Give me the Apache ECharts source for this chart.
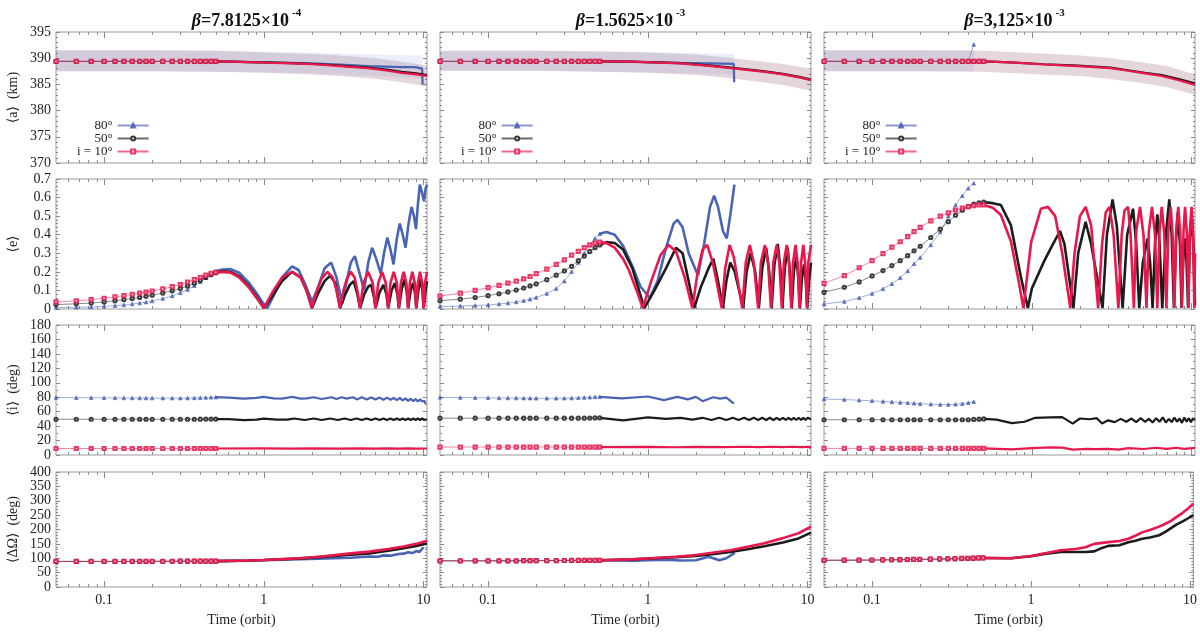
<!DOCTYPE html>
<html>
<head>
<meta charset="utf-8">
<script src="https://cdn.jsdelivr.net/npm/echarts@6/dist/echarts.min.js"></script>
<style>
  html, body { margin: 0; background: #fff; }
  #chart { width: 1200px; height: 633px; }
</style>
</head>
<body>
<div id="chart"></div>
<script>
// sample times of the early (marker) part of every curve
const T0 = [0.05, 0.067, 0.083, 0.1, 0.117, 0.133, 0.15, 0.167, 0.183, 0.2, 0.233, 0.267, 0.3, 0.333, 0.367, 0.4, 0.433, 0.467, 0.5];

const betaMantissa = ['7.8125', '1.5625', '3,125'];
const betaExponent = ['-4', '-3', '-3'];
const legendNames = ['80°', '50°', 'i = 10°'];
const rowNames = ['⟨a⟩  (km)', '⟨e⟩', '⟨i⟩  (deg)', '⟨ΔΩ⟩  (deg)'];
const xLabels = [0.1, 1, 10];
const xMinorTicks = [0.06, 0.07, 0.08, 0.09, 0.2, 0.3, 0.4, 0.5, 0.6, 0.7, 0.8, 0.9, 2, 3, 4, 5, 6, 7, 8, 9];

// ---- <a> (km)
const aStart = [389.4, 389.4, 389.4, 389.4, 389.4, 389.4, 389.4, 389.4, 389.4, 389.4, 389.4, 389.4, 389.4, 389.4, 389.4, 389.4, 389.4, 389.4, 389.4];
const a1_80 = [[0.5, 389.4], [1, 389.2], [2, 389.0], [3, 388.8], [4.5, 388.5], [7.3, 388.3], [8.8, 388.3], [8.85, 388.0], [9.8, 388.0], [9.85, 385.0]];
const a1_50 = [[0.5, 389.4], [1, 389.2], [1.5, 389.05], [2.2, 388.85], [3, 388.6], [4.5, 388.2], [6, 387.8], [7.3, 387.4], [9, 387.1], [10.5, 386.8]];
const a1_10 = [[0.5, 389.4], [0.7, 389.3], [1, 389.15], [1.5, 389.0], [2.2, 388.8], [3, 388.5], [4.5, 388.1], [6, 387.6], [7.3, 387.2], [9, 386.9], [10.5, 386.6]];
const a2_80 = [[0.5, 389.4], [1, 389.25], [1.6, 389.1], [2.5, 389.0], [3.45, 388.9], [3.47, 385.4]];
const a2_50 = [[0.5, 389.4], [0.78, 389.35], [1.6, 389.05], [2.5, 388.6], [3.3, 388.2], [5.4, 387.5], [7, 387.0], [9, 386.4], [10.5, 385.9]];
const a2_10 = [[0.5, 389.4], [0.78, 389.35], [1.6, 389.0], [2.5, 388.5], [3.3, 388.1], [5.4, 387.4], [7, 386.9], [9, 386.3], [10.5, 385.8]];
const a3_80s = [389.4, 389.4, 389.4, 389.4, 389.4, 389.4, 389.4, 389.4, 389.4, 389.4, 389.4, 389.4, 389.4, 389.4, 389.4, 389.4, 392.6];
const a3_50 = [[0.5, 389.4], [0.73, 389.2], [1.2, 388.85], [1.95, 388.6], [3.1, 388.2], [4, 387.7], [5.1, 387.2], [6.5, 386.8], [8.3, 386.0], [10.5, 385.2]];
const a3_10 = [[0.5, 389.4], [0.73, 389.2], [1.2, 388.8], [1.95, 388.5], [3.1, 388.1], [4, 387.6], [5.1, 387.1], [6.5, 386.6], [8.3, 385.8], [10.5, 384.9]];

// spread bands of <a>
const bandT = [0.05, 0.1, 0.2, 0.5, 1, 2, 3, 5, 7, 10.5];
const band1Lo = [387.5, 387.5, 387.5, 387.4, 387.2, 386.9, 386.6, 386.1, 385.5, 384.6];
const band1Hi = [391.5, 391.5, 391.5, 391.4, 391.1, 390.8, 390.5, 390.0, 389.4, 388.6];
const band1bT = [0.05, 0.1, 0.2, 0.5, 1, 2, 3, 5, 7, 9.85];
const band1bLo = [387.5, 387.5, 387.5, 387.4, 387.3, 387.1, 386.9, 386.6, 386.4, 386.1];
const band1bHi = [391.5, 391.5, 391.5, 391.4, 391.3, 391.1, 390.9, 390.7, 390.6, 390.5];
const band2Lo = [387.6, 387.6, 387.6, 387.4, 387.2, 386.8, 386.3, 385.5, 384.9, 383.8];
const band2Hi = [391.4, 391.4, 391.4, 391.3, 391.1, 390.7, 390.2, 389.4, 388.9, 388.0];
const band2bT = [0.05, 0.1, 0.2, 0.5, 1, 2, 3.47];
const band2bLo = [387.6, 387.6, 387.6, 387.4, 387.3, 387.1, 386.9];
const band2bHi = [391.4, 391.4, 391.4, 391.3, 391.2, 391.0, 390.8];
const band3Lo = [387.5, 387.5, 387.5, 387.4, 387.0, 386.6, 386.1, 385.2, 384.5, 383.0];
const band3Hi = [391.5, 391.5, 391.5, 391.4, 391.0, 390.5, 390.1, 389.2, 388.5, 386.9];
const band3bT = [0.05, 0.2, 0.433];
const band3bLo = [387.5, 387.5, 387.5];
const band3bHi = [391.5, 391.5, 391.5];

// ---- <e>
const e1_80s = [0.008, 0.009, 0.011, 0.014, 0.018, 0.022, 0.027, 0.032, 0.037, 0.043, 0.056, 0.07, 0.087, 0.105, 0.125, 0.146, 0.168, 0.188, 0.203];
const e1_50s = [0.024, 0.028, 0.032, 0.038, 0.044, 0.05, 0.056, 0.062, 0.068, 0.074, 0.086, 0.098, 0.11, 0.124, 0.139, 0.155, 0.17, 0.185, 0.195];
const e1_10s = [0.038, 0.044, 0.05, 0.058, 0.065, 0.072, 0.079, 0.085, 0.091, 0.097, 0.108, 0.12, 0.132, 0.145, 0.158, 0.17, 0.182, 0.192, 0.198];
const e1_80 = [[0.5, 0.203], [0.55, 0.213], [0.62, 0.215], [0.7, 0.195], [0.8, 0.145], [0.9, 0.085], [1.0, 0.025], [1.05, 0.005], [1.15, 0.07], [1.3, 0.17], [1.5, 0.23], [1.65, 0.21], [1.8, 0.14], [2.0, 0.04], [2.15, 0.1], [2.4, 0.22], [2.64, 0.25], [2.85, 0.17], [3.1, 0.03], [3.3, 0.15], [3.5, 0.25], [3.71, 0.285], [3.95, 0.2], [4.24, 0.1], [4.5, 0.25], [4.76, 0.33], [5.05, 0.27], [5.39, 0.19], [5.65, 0.3], [5.93, 0.385], [6.2, 0.32], [6.48, 0.24], [6.8, 0.38], [7.09, 0.46], [7.4, 0.4], [7.71, 0.33], [8.05, 0.46], [8.4, 0.55], [8.7, 0.5], [8.96, 0.43], [9.2, 0.56], [9.47, 0.67], [9.75, 0.63], [10.05, 0.58], [10.3, 0.65], [10.5, 0.67]];
const e1_50 = [[0.5, 0.195], [0.55, 0.203], [0.62, 0.2], [0.7, 0.175], [0.8, 0.125], [0.9, 0.065], [1.0, 0.005], [1.15, 0.08], [1.3, 0.15], [1.5, 0.2], [1.7, 0.17], [1.85, 0.1], [2.0, 0.005], [2.2, 0.09], [2.4, 0.15], [2.6, 0.18], [2.8, 0.14], [3.0, 0.005], [3.2, 0.07], [3.45, 0.13], [3.65, 0.15], [3.85, 0.08], [4.0, 0.005], [4.25, 0.08], [4.5, 0.12], [4.7, 0.13], [4.9, 0.06], [5.0, 0.005], [5.3, 0.09], [5.6, 0.13], [5.85, 0.08], [6.0, 0.005], [6.3, 0.1], [6.6, 0.14], [6.85, 0.08], [7.0, 0.005], [7.3, 0.11], [7.6, 0.16], [7.85, 0.09], [8.0, 0.005], [8.3, 0.1], [8.6, 0.14], [8.85, 0.08], [9.0, 0.005], [9.3, 0.11], [9.6, 0.16], [9.85, 0.09], [10.0, 0.005], [10.3, 0.1], [10.5, 0.15]];
const e1_10 = [[0.5, 0.198], [0.55, 0.2], [0.62, 0.196], [0.7, 0.17], [0.8, 0.12], [0.9, 0.06], [1.0, 0.005], [1.15, 0.1], [1.3, 0.17], [1.5, 0.2], [1.7, 0.17], [1.85, 0.1], [2.0, 0.005], [2.15, 0.1], [2.3, 0.165], [2.5, 0.2], [2.7, 0.17], [2.85, 0.1], [3.0, 0.005], [3.15, 0.1], [3.3, 0.16], [3.5, 0.2], [3.7, 0.17], [3.85, 0.1], [4.0, 0.005], [4.2, 0.14], [4.5, 0.2], [4.8, 0.14], [5.0, 0.005], [5.2, 0.14], [5.5, 0.2], [5.8, 0.14], [6.0, 0.005], [6.2, 0.14], [6.5, 0.2], [6.8, 0.14], [7.0, 0.005], [7.2, 0.14], [7.5, 0.2], [7.8, 0.14], [8.0, 0.005], [8.2, 0.14], [8.5, 0.2], [8.8, 0.14], [9.0, 0.005], [9.2, 0.14], [9.5, 0.2], [9.8, 0.14], [10.0, 0.005], [10.2, 0.14], [10.5, 0.2]];

const e2_80s = [0.013, 0.016, 0.019, 0.022, 0.027, 0.032, 0.038, 0.045, 0.053, 0.062, 0.083, 0.11, 0.15, 0.2, 0.25, 0.3, 0.345, 0.38, 0.405];
const e2_50s = [0.045, 0.053, 0.062, 0.072, 0.082, 0.092, 0.102, 0.113, 0.124, 0.135, 0.158, 0.182, 0.205, 0.23, 0.26, 0.285, 0.31, 0.33, 0.345];
const e2_10s = [0.07, 0.085, 0.1, 0.115, 0.127, 0.139, 0.15, 0.162, 0.175, 0.19, 0.215, 0.24, 0.265, 0.29, 0.31, 0.33, 0.345, 0.355, 0.36];
const e2_80 = [[0.5, 0.405], [0.55, 0.415], [0.62, 0.4], [0.7, 0.34], [0.8, 0.23], [0.9, 0.12], [1.03, 0.06], [1.15, 0.15], [1.3, 0.33], [1.45, 0.46], [1.53, 0.48], [1.65, 0.44], [1.8, 0.3], [2.06, 0.18], [2.25, 0.35], [2.45, 0.55], [2.6, 0.61], [2.75, 0.55], [2.95, 0.42], [3.12, 0.38], [3.3, 0.52], [3.48, 0.67]];
const e2_50 = [[0.5, 0.345], [0.55, 0.36], [0.62, 0.355], [0.7, 0.32], [0.8, 0.22], [0.88, 0.1], [0.95, 0.005], [1.1, 0.1], [1.3, 0.22], [1.5, 0.33], [1.65, 0.3], [1.8, 0.15], [1.95, 0.005], [2.15, 0.12], [2.4, 0.22], [2.57, 0.27], [2.75, 0.15], [2.95, 0.005], [3.1, 0.15], [3.28, 0.25], [3.5, 0.2], [3.95, 0.005], [4.15, 0.2], [4.4, 0.3], [4.7, 0.2], [4.95, 0.005], [5.2, 0.22], [5.5, 0.33], [5.75, 0.2], [5.95, 0.005], [6.2, 0.24], [6.5, 0.35], [6.75, 0.22], [6.95, 0.005], [7.2, 0.22], [7.5, 0.33], [7.75, 0.2], [7.95, 0.005], [8.2, 0.2], [8.5, 0.28], [8.75, 0.17], [8.95, 0.005], [9.2, 0.16], [9.5, 0.24], [9.75, 0.15], [9.95, 0.005], [10.2, 0.15], [10.5, 0.25]];
const e2_10 = [[0.5, 0.36], [0.55, 0.355], [0.62, 0.33], [0.7, 0.27], [0.76, 0.21], [0.85, 0.1], [0.93, 0.005], [1.05, 0.15], [1.2, 0.29], [1.35, 0.345], [1.5, 0.31], [1.7, 0.17], [1.9, 0.005], [2.05, 0.2], [2.2, 0.32], [2.35, 0.345], [2.55, 0.25], [2.9, 0.005], [3.05, 0.22], [3.25, 0.345], [3.45, 0.28], [3.9, 0.005], [4.1, 0.25], [4.35, 0.345], [4.6, 0.25], [4.9, 0.005], [5.1, 0.25], [5.4, 0.345], [5.65, 0.25], [5.9, 0.005], [6.1, 0.25], [6.4, 0.345], [6.65, 0.25], [6.9, 0.005], [7.1, 0.25], [7.4, 0.345], [7.65, 0.25], [7.9, 0.005], [8.1, 0.25], [8.4, 0.345], [8.65, 0.25], [8.9, 0.005], [9.1, 0.25], [9.4, 0.345], [9.65, 0.25], [9.9, 0.005], [10.1, 0.25], [10.5, 0.345]];

const e3_80s = [0.027, 0.04, 0.06, 0.083, 0.108, 0.136, 0.168, 0.205, 0.243, 0.277, 0.345, 0.415, 0.5, 0.56, 0.61, 0.65, 0.677];
const e3_50s = [0.09, 0.117, 0.146, 0.178, 0.207, 0.234, 0.26, 0.287, 0.313, 0.338, 0.385, 0.43, 0.47, 0.505, 0.532, 0.552, 0.565, 0.572, 0.575];
const e3_10s = [0.138, 0.18, 0.222, 0.26, 0.298, 0.333, 0.362, 0.39, 0.417, 0.44, 0.474, 0.5, 0.518, 0.533, 0.543, 0.551, 0.557, 0.56, 0.56];
const e3_50 = [[0.5, 0.575], [0.57, 0.57], [0.64, 0.56], [0.74, 0.45], [0.85, 0.18], [0.944, 0.005], [1.0, 0.11], [1.19, 0.255], [1.32, 0.33], [1.5, 0.42], [1.6, 0.35], [1.82, 0.005], [1.95, 0.3], [2.17, 0.47], [2.35, 0.35], [2.77, 0.005], [2.95, 0.4], [3.2, 0.59], [3.4, 0.45], [3.7, 0.005], [3.95, 0.4], [4.3, 0.54], [4.5, 0.35], [4.7, 0.005], [4.95, 0.25], [5.3, 0.38], [5.5, 0.25], [5.7, 0.005], [5.9, 0.35], [6.1, 0.51], [6.3, 0.35], [6.55, 0.005], [6.9, 0.4], [7.25, 0.59], [7.5, 0.4], [7.75, 0.005], [8.0, 0.38], [8.2, 0.52], [8.45, 0.35], [8.65, 0.005], [8.9, 0.3], [9.1, 0.38], [9.3, 0.25], [9.5, 0.005], [9.75, 0.38], [10.0, 0.52], [10.25, 0.35], [10.5, 0.02]];
const e3_10 = [[0.5, 0.56], [0.57, 0.545], [0.64, 0.506], [0.74, 0.363], [0.835, 0.13], [0.885, 0.005], [0.99, 0.36], [1.14, 0.54], [1.26, 0.55], [1.4, 0.5], [1.55, 0.3], [1.74, 0.005], [1.85, 0.3], [2.0, 0.5], [2.17, 0.55], [2.35, 0.45], [2.6, 0.005], [2.75, 0.35], [2.9, 0.52], [3.06, 0.55], [3.25, 0.4], [3.48, 0.005], [3.65, 0.4], [3.8, 0.53], [4.0, 0.55], [4.15, 0.4], [4.35, 0.005], [4.5, 0.42], [4.75, 0.55], [5.0, 0.4], [5.22, 0.005], [5.4, 0.42], [5.65, 0.55], [5.9, 0.4], [6.1, 0.005], [6.3, 0.42], [6.5, 0.55], [6.75, 0.4], [6.95, 0.005], [7.15, 0.42], [7.4, 0.55], [7.6, 0.4], [7.8, 0.005], [8.0, 0.42], [8.25, 0.55], [8.5, 0.4], [8.7, 0.005], [8.9, 0.42], [9.1, 0.55], [9.35, 0.4], [9.55, 0.005], [9.75, 0.42], [10.0, 0.55], [10.2, 0.4], [10.4, 0.005], [10.5, 0.3]];

// ---- <i> (deg)
const i1_80s = [79.5, 79.4, 79.3, 79.2, 79.1, 79.0, 79.0, 78.9, 78.8, 78.8, 78.7, 78.7, 78.7, 78.8, 79.0, 79.2, 79.5, 79.8, 80.0];
const i1_50s = [49.5, 49.5, 49.5, 49.5, 49.5, 49.5, 49.5, 49.5, 49.5, 49.5, 49.5, 49.5, 49.5, 49.5, 49.5, 49.6, 49.7, 49.8, 49.8];
const i1_10s = [9, 9, 9, 9, 9, 9, 9, 9, 9, 9, 9, 9, 9, 9, 9, 9, 9, 9, 9];
const i1_80 = [[0.5, 80], [0.6, 79.5], [0.75, 78], [0.9, 79], [1.0, 80.5], [1.15, 78.5], [1.3, 78], [1.5, 80.5], [1.7, 78], [1.85, 78.5], [2.05, 80], [2.3, 77.5], [2.65, 80], [2.85, 77.5], [3.07, 80], [3.3, 78], [3.6, 80], [3.85, 77], [4.1, 80], [4.4, 77], [4.7, 79.5], [5.0, 77], [5.3, 79.5], [5.6, 76.5], [5.9, 79.5], [6.2, 76.5], [6.5, 79], [6.8, 76], [7.1, 79], [7.4, 75.5], [7.7, 78.5], [8.0, 75], [8.3, 78], [8.6, 74.5], [8.9, 77.5], [9.2, 74], [9.5, 77], [9.8, 74], [10.1, 75], [10.3, 71]];
const i1_50 = [[0.5, 49.8], [0.6, 49.6], [0.75, 48.3], [0.9, 49], [1.0, 50.3], [1.2, 49], [1.4, 49], [1.55, 50.5], [1.8, 48.5], [2.05, 50.5], [2.3, 48.5], [2.6, 50.5], [2.9, 48.5], [3.2, 50.5], [3.5, 48.5], [3.8, 50.5], [4.1, 48.5], [4.4, 50.5], [4.7, 48.5], [5.0, 50.5], [5.3, 48.5], [5.6, 50.5], [5.9, 48.5], [6.2, 50.5], [6.5, 48.5], [6.8, 50.5], [7.1, 48.5], [7.4, 50.5], [7.7, 48.5], [8.0, 50.5], [8.3, 48.5], [8.6, 50.5], [8.9, 48.5], [9.2, 50.5], [9.5, 48.5], [9.8, 50.5], [10.1, 48.5], [10.5, 49.5]];
const i1_10 = [[0.5, 9], [1, 9.3], [1.5, 8.8], [2, 9.3], [3, 8.8], [4, 9.3], [5, 8.8], [6, 9.3], [7, 8.8], [8, 9.3], [9, 8.8], [10.5, 9]];
const i2_80s = [79.8, 79.6, 79.4, 79.2, 79.0, 78.9, 78.8, 78.7, 78.6, 78.5, 78.5, 78.5, 78.6, 78.8, 79.1, 79.5, 79.9, 80.3, 80.5];
const i2_50s = [51, 51, 51, 51, 51, 51, 51, 51, 51, 51, 51, 51, 51, 51, 51, 51, 51.1, 51.3, 51.5];
const i2_10s = [11, 11, 11, 11, 11, 11, 11, 11, 11, 11, 11, 11, 11, 11, 11, 11, 11, 11, 11];
const i2_80 = [[0.5, 80.5], [0.69, 78.5], [1.0, 81], [1.26, 76], [1.53, 80.5], [1.78, 77], [2.0, 80.5], [2.2, 74.5], [2.56, 80], [2.83, 78], [3.1, 79.5], [3.45, 71]];
const i2_50 = [[0.5, 51.5], [0.7, 48], [1.0, 52], [1.3, 50], [1.6, 51.5], [1.9, 49], [2.2, 51.5], [2.5, 48.5], [2.8, 51.5], [3.1, 48.5], [3.4, 51.5], [3.7, 48.5], [4.0, 51.5], [4.3, 48.5], [4.6, 51.5], [4.9, 48.5], [5.2, 51.5], [5.5, 48.5], [5.8, 51.5], [6.1, 48.5], [6.4, 51.5], [6.7, 48.5], [7.0, 51.5], [7.3, 48.5], [7.6, 51.5], [7.9, 48.5], [8.2, 51.5], [8.5, 48.5], [8.8, 51.5], [9.1, 48.5], [9.4, 51.5], [9.7, 48.5], [10.0, 51.5], [10.5, 49.5]];
const i2_10 = [[0.5, 11], [1, 11.3], [1.5, 10.7], [2, 11.3], [3, 10.8], [4, 11.4], [5, 10.8], [6, 11.4], [7, 10.8], [8, 11.4], [9, 10.8], [10.5, 11.2]];
const i3_80s = [77.5, 76.7, 75.9, 75.0, 74.2, 73.5, 72.8, 72.2, 71.6, 71.1, 70.3, 69.9, 69.8, 70.2, 71.0, 72.3, 73.8];
const i3_50s = [48.8, 48.8, 48.8, 48.8, 48.8, 48.8, 48.8, 48.8, 48.8, 48.8, 48.8, 48.8, 48.8, 48.8, 48.8, 48.8, 49.2, 49.6, 50.0];
const i3_10s = [9.1, 9.1, 9.1, 9.1, 9.1, 9.1, 9.1, 9.1, 9.1, 9.1, 9.1, 9.1, 9.1, 9.1, 9.1, 9.1, 9.1, 9.1, 9.1];
const i3_50 = [[0.5, 50], [0.6, 49], [0.75, 44.2], [0.9, 46], [1.05, 51.5], [1.3, 52], [1.55, 52.4], [1.8, 43.5], [2.0, 50.5], [2.3, 49.5], [2.55, 51], [2.75, 43.5], [3.0, 48], [3.3, 45.5], [3.6, 50], [3.9, 46], [4.2, 50.5], [4.5, 45.5], [4.8, 51], [5.1, 46], [5.4, 50], [5.7, 45], [6.0, 51], [6.3, 46], [6.6, 52], [6.9, 45], [7.2, 50], [7.5, 45.5], [7.8, 52], [8.1, 46], [8.4, 50.5], [8.7, 44.5], [9.0, 52], [9.3, 46], [9.6, 51], [9.9, 45.5], [10.2, 51], [10.5, 48]];
const i3_10 = [[0.5, 9.1], [0.75, 7.8], [1.0, 9.5], [1.3, 10.5], [1.55, 10.3], [1.8, 7.5], [2.2, 8.5], [2.5, 8], [3.0, 8.5], [3.5, 7.5], [4, 9.5], [5, 8.3], [6, 10], [7, 8.5], [8, 10], [9, 8.5], [10.5, 9.8]];

// ---- <ΔΩ> (deg)
const wStart1 = [89, 89, 89, 89, 89, 89, 89, 89.2, 89.3, 89.4, 89.5, 89.6, 89.7, 89.8, 89.9, 90, 90, 90, 90];
const w1_80 = [[0.5, 90], [0.8, 91.5], [1.0, 93], [1.3, 95], [1.69, 97], [2.2, 98], [2.78, 100], [3.5, 102], [4.57, 106], [5.2, 105], [5.6, 110], [6.2, 109], [7.0, 115], [7.5, 116], [8.0, 121], [8.5, 118], [9.0, 125], [9.4, 122], [9.8, 133], [10.0, 137]];
const w1_50 = [[0.5, 90], [0.8, 92], [1.0, 94], [1.3, 96.5], [1.69, 99.5], [2.2, 104], [2.78, 108], [3.5, 112], [4.57, 117], [6, 126], [7.5, 135], [9, 143], [10.5, 151]];
const w1_10 = [[0.5, 90], [0.8, 92], [1.0, 94], [1.3, 97], [1.69, 100], [2.2, 105], [2.78, 111], [3.5, 117], [4.57, 123], [6, 132], [7.5, 141], [9, 150], [10.5, 161]];
const wStart2 = [91, 91, 91, 91, 91, 91, 91.2, 91.4, 91.5, 91.6, 91.8, 92, 92.2, 92.4, 92.6, 92.8, 92.9, 93, 93];
const w2_80 = [[0.5, 93], [0.8, 91.5], [1.0, 93], [1.3, 95], [1.6, 92], [2.0, 93], [2.4, 105], [2.8, 93], [3.1, 100], [3.5, 119]];
const w2_50 = [[0.5, 93], [0.8, 96], [1.0, 99], [1.5, 104], [2.0, 108], [2.6, 115], [3.28, 122], [4.2, 131], [5.36, 142], [7, 155], [8.77, 169], [10.5, 189]];
const w2_10 = [[0.5, 93], [0.8, 96], [1.0, 99], [1.5, 105], [2.0, 111], [2.6, 120], [3.28, 128], [4.2, 140], [5.36, 152], [7, 170], [8.77, 187], [10.5, 210]];
const wStart3 = [93, 93.3, 93.6, 94, 94.4, 94.8, 95.2, 95.6, 96, 96.4, 97, 97.6, 98.2, 98.8, 99.4, 100, 100.5, 101, 101];
const w3_80s = [92.5, 92.7, 93, 93.3, 93.6, 93.9, 94.2, 94.5, 94.8, 95, 95.5, 96, 96.4, 96.8, 97.2, 97.6, 98];
const w3_50 = [[0.5, 101], [0.75, 100], [1.0, 107], [1.25, 116], [1.54, 122], [1.9, 122], [2.2, 122], [2.5, 124], [2.8, 136], [3.06, 143], [3.6, 145], [4.1, 156], [4.6, 162], [5.0, 168], [5.6, 172], [6.4, 180], [7, 192], [7.6, 205], [8.2, 217], [9, 228], [9.8, 240], [10.5, 250]];
const w3_10 = [[0.5, 101], [0.75, 100], [1.0, 108], [1.25, 118], [1.54, 128], [1.9, 132], [2.2, 138], [2.5, 150], [3.06, 156], [3.6, 160], [4.1, 168], [4.6, 180], [5.0, 190], [5.6, 198], [6.4, 210], [7, 220], [7.6, 230], [8.2, 243], [9, 258], [9.8, 275], [10.5, 290]];

// panels[row][col] = [80 early, 80 late, 50 early, 50 late, 10 early, 10 late]
const panels = [
  [[aStart, a1_80, aStart, a1_50, aStart, a1_10], [aStart, a2_80, aStart, a2_50, aStart, a2_10], [a3_80s, [], aStart, a3_50, aStart, a3_10]],
  [[e1_80s, e1_80, e1_50s, e1_50, e1_10s, e1_10], [e2_80s, e2_80, e2_50s, e2_50, e2_10s, e2_10], [e3_80s, [], e3_50s, e3_50, e3_10s, e3_10]],
  [[i1_80s, i1_80, i1_50s, i1_50, i1_10s, i1_10], [i2_80s, i2_80, i2_50s, i2_50, i2_10s, i2_10], [i3_80s, [], i3_50s, i3_50, i3_10s, i3_10]],
  [[wStart1, w1_80, wStart1, w1_50, wStart1, w1_10], [wStart2, w2_80, wStart2, w2_50, wStart2, w2_10], [w3_80s, [], wStart3, w3_50, wStart3, w3_10]]
];
const bands = [
  [bandT, band1Lo, band1Hi, band1bT, band1bLo, band1bHi],
  [bandT, band2Lo, band2Hi, band2bT, band2bLo, band2bHi],
  [bandT, band3Lo, band3Hi, band3bT, band3bLo, band3bHi]
];

const SERIF = "'Liberation Serif', 'DejaVu Serif', serif";
const TICK = '#8a8a8a';
const COL_LEFT = [56, 440, 824];
const COL_W = 371;
const ROW_TOP = [32, 179, 325, 472];
const ROW_H = [131, 130, 130, 115];
const yRows = [
  { min: 370, max: 395, interval: 5, minor: 5, width: 2.2 },
  { min: 0, max: 0.7, interval: 0.1, minor: 5, width: 2.6 },
  { min: 0, max: 180, interval: 20, minor: 2, width: 2.2 },
  { min: 0, max: 400, interval: 50, minor: 5, width: 2.6 }
];
const incs = [
  { color: '#4a64b5', symbol: 'triangle', size: 3.5 },
  { color: '#1c1c1c', symbol: 'emptyCircle', size: 3.2 },
  { color: '#e8174c', symbol: 'emptyRect', size: 3.2 }
];

const grid = [], xAxis = [], yAxis = [], series = [];

function bandSeries(g, t, lo, hi, fill) {
  return {
    type: 'custom', xAxisIndex: 4 * g, yAxisIndex: 2 * g, silent: true, z: 1,
    data: [[t[0], lo[0]]],
    renderItem: function(params, api) {
      const pts = t.map((x, k) => api.coord([x, hi[k]]));
      for (let k = t.length - 1; k >= 0; k--) pts.push(api.coord([t[k], lo[k]]));
      return { type: 'polygon', shape: { points: pts }, style: { fill: fill } };
    }
  };
}

for (let r = 0; r < 4; r++) {
  for (let c = 0; c < 3; c++) {
    const g = grid.length;
    const yr = yRows[r];
    const last = r === 3;
    grid.push({
      left: COL_LEFT[c], top: ROW_TOP[r], width: COL_W, height: ROW_H[r],
      show: true, borderColor: '#9a9a9a', borderWidth: 1
    });

    const xBase = {
      type: 'log', logBase: 10, min: 0.05, max: 10.5, gridIndex: g,
      axisLine: { show: false }, splitLine: { show: false }, axisLabel: { show: false }
    };
    xAxis.push(Object.assign({}, xBase, {
      position: 'bottom',
      axisTick: { inside: true, length: 3, customValues: xMinorTicks, lineStyle: { color: TICK } },
      axisLabel: {
        show: last, customValues: xLabels, margin: 6,
        fontFamily: SERIF, fontSize: 14, color: '#222',
        formatter: v => String(v)
      },
      name: last ? 'Time (orbit)' : '', nameLocation: 'middle', nameGap: 26,
      nameTextStyle: { fontFamily: SERIF, fontSize: 14, color: '#222' }
    }));
    xAxis.push(Object.assign({}, xBase, {
      position: 'bottom',
      axisTick: { inside: true, length: 6, customValues: xLabels, lineStyle: { color: TICK } }
    }));
    xAxis.push(Object.assign({}, xBase, {
      position: 'top',
      axisTick: { inside: true, length: 3, customValues: xMinorTicks, lineStyle: { color: TICK } }
    }));
    xAxis.push(Object.assign({}, xBase, {
      position: 'top',
      axisTick: { inside: true, length: 6, customValues: xLabels, lineStyle: { color: TICK } }
    }));

    const yBase = {
      type: 'value', gridIndex: g, min: yr.min, max: yr.max, interval: yr.interval,
      splitLine: { show: false }, axisLine: { show: false },
      axisTick: { show: true, inside: true, length: 4, lineStyle: { color: TICK } },
      minorTick: { show: true, splitNumber: yr.minor, length: 2, lineStyle: { color: TICK } }
    };
    yAxis.push(Object.assign({}, yBase, {
      position: 'left',
      axisLabel: { show: c === 0, fontFamily: SERIF, fontSize: 14, color: '#222', margin: 5 },
      name: c === 0 ? rowNames[r] : '', nameLocation: 'middle', nameRotate: 90, nameGap: 36,
      nameTextStyle: { fontFamily: SERIF, fontSize: 14, color: '#222' }
    }));
    yAxis.push(Object.assign({}, yBase, { position: 'right', axisLabel: { show: false } }));

    if (r === 0) {
      const b = bands[c];
      series.push(bandSeries(g, b[0], b[1], b[2], 'rgba(150, 90, 115, 0.25)'));
      series.push(bandSeries(g, b[3], b[4], b[5], 'rgba(90, 120, 210, 0.12)'));
    }

    const p = panels[r][c];
    for (let k = 0; k < 3; k++) {
      const late = p[2 * k + 1];
      if (late.length) {
        series.push({
          type: 'line', name: legendNames[k] + ' dense', xAxisIndex: 4 * g, yAxisIndex: 2 * g,
          data: late, showSymbol: false, symbol: 'none', z: 3,
          lineStyle: { width: yr.width, color: incs[k].color }
        });
      }
    }
    for (let k = 0; k < 3; k++) {
      const early = p[2 * k];
      series.push({
        type: 'line', name: legendNames[k], xAxisIndex: 4 * g, yAxisIndex: 2 * g,
        data: early.map((v, n) => [T0[n], v]),
        symbol: incs[k].symbol, symbolSize: incs[k].size, showSymbol: true, z: 4,
        lineStyle: { width: 0.8, color: incs[k].color, opacity: 0.65 },
        itemStyle: { color: incs[k].color, borderColor: incs[k].color, borderWidth: 0.8, opacity: 0.85 }
      });
    }
  }
}

const titleRich = {
  b: { fontFamily: SERIF, fontSize: 18, fontWeight: 'bold', fontStyle: 'italic', color: '#111', lineHeight: 22, verticalAlign: 'bottom' },
  t: { fontFamily: SERIF, fontSize: 18, fontWeight: 'bold', color: '#111', lineHeight: 22, verticalAlign: 'bottom' },
  s: { fontFamily: SERIF, fontSize: 11, fontWeight: 'bold', color: '#111', lineHeight: 12, verticalAlign: 'top', padding: [0, 0, 0, 3] }
};

const option = {
  animation: false,
  backgroundColor: '#fff',
  title: betaMantissa.map((m, c) => ({
    text: '{b|β}{t|=' + m + '×10}{s|' + betaExponent[c] + '}',
    left: COL_LEFT[c] + COL_W / 2, top: 3, textAlign: 'center',
    textStyle: { rich: titleRich }
  })),
  legend: COL_LEFT.map(l => ({
    left: l + 16, top: 114, orient: 'vertical', align: 'right',
    itemGap: 0, itemWidth: 31, itemHeight: 5, selectedMode: false,
    data: legendNames,
    textStyle: { fontFamily: SERIF, fontSize: 13, color: '#222', lineHeight: 12.5, padding: 0 }
  })),
  grid: grid,
  xAxis: xAxis,
  yAxis: yAxis,
  series: series
};

const chart = echarts.init(document.getElementById('chart'));
chart.setOption(option);
</script>
</body>
</html>
